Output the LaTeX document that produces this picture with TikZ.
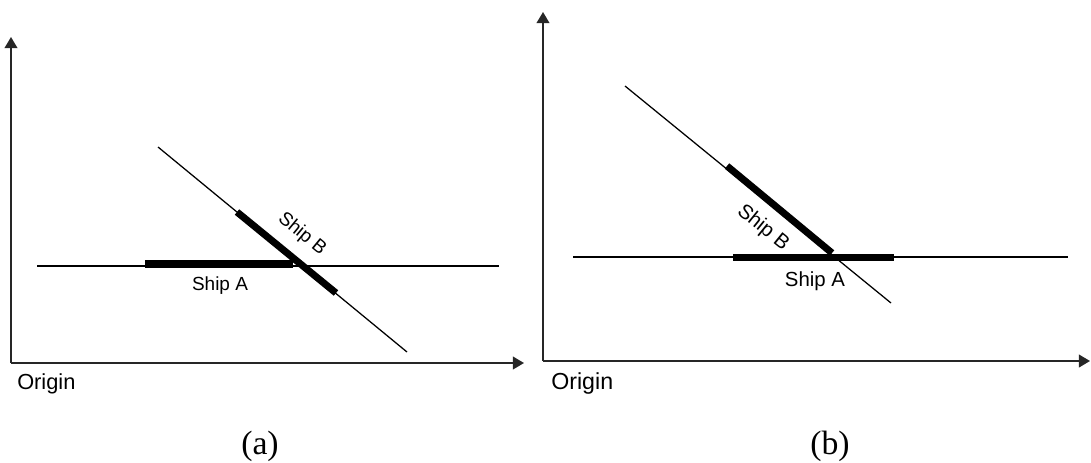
\documentclass[tikz,border=0pt]{standalone}
\usepackage{fontspec}
\setmainfont{Liberation Serif}
\setsansfont{Liberation Sans}
\usetikzlibrary{arrows.meta}

\begin{document}
\begin{tikzpicture}[x=0.025cm,y=-0.025cm,
  axis/.style={line width=1.3pt,black!85,-{Triangle[length=0.28cm,width=0.32cm]}},
  ray/.style={line width=0.9pt},
  shipbar/.style={line width=5pt},
  shiplbl/.style={inner sep=0pt,font=\sffamily\fontsize{13.5}{16}\selectfont},
  originlbl/.style={inner sep=0pt,anchor=base west,font=\sffamily\fontsize{15.5}{18}\selectfont},
  caplbl/.style={inner sep=0pt,font=\fontsize{24}{28}\selectfont}]
\useasboundingbox (0,0) rectangle (1091,462);
% (a): ship B crosses ship A
\coordinate (oa) at (11,363);\coordinate (ya) at (11,37);\coordinate (xa) at (524,363);
\coordinate (ha1) at (37,266);\coordinate (ha2) at (499,266);
\coordinate (da1) at (158,147);\coordinate (da2) at (407,352);
\coordinate (sa1) at (145,264);\coordinate (sa2) at (293,264);
\coordinate (sb1) at (237,212);\coordinate (sb2) at (336,293);
\draw[axis] (oa)--(ya);\draw[axis] (oa)--(xa);
\draw[ray] (ha1)--(ha2);\draw[ray] (da1)--(da2);
\draw[shipbar] (sa1)--(sa2);\draw[shipbar] (sb1)--(sb2);
\node[shiplbl] (lblAa) at (220,286){Ship A};
\node[shiplbl,rotate=-39.5] (lblBa) at (302,234){Ship B};
\node[originlbl] (orga) at (17,389){Origin};
\node[caplbl] (capa) at (260,446){(a)};
% (b): ship B ends on ship A
\coordinate (ob) at (543,361);\coordinate (yb) at (543,12);\coordinate (xb) at (1090,361);
\coordinate (hb1) at (573,257);\coordinate (hb2) at (1068,257);
\coordinate (db1) at (625,86);\coordinate (db2) at (891,303);
\coordinate (ta1) at (733,257.5);\coordinate (ta2) at (894,257.5);
\coordinate (tb1) at (727,166);\coordinate (tb2) at (832,253);
\draw[axis] (ob)--(yb);\draw[axis] (ob)--(xb);
\draw[ray] (hb1)--(hb2);\draw[ray] (db1)--(db2);
\draw[shipbar] (ta1)--(ta2);\draw[shipbar] (tb1)--(tb2);
\node[shiplbl,font=\sffamily\fontsize{14.5}{17}\selectfont] (lblAb) at (815,281){Ship A};
\node[shiplbl,rotate=-39,font=\sffamily\fontsize{14.5}{17}\selectfont] (lblBb) at (763,228){Ship B};
\node[originlbl,font=\sffamily\fontsize{16.5}{19}\selectfont] (orgb) at (551,389){Origin};
\node[caplbl] (capb) at (830,446){(b)};
\end{tikzpicture}
\end{document}
